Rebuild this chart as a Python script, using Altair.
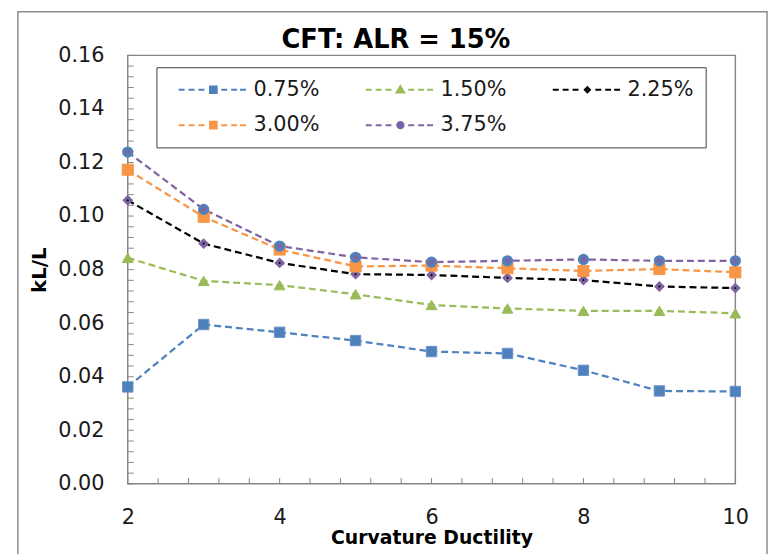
import altair as alt
import pandas as pd

# ---- data ----
x_vals = [2, 3, 4, 5, 6, 7, 8, 9, 10]
series_names = ["0.75%", "1.50%", "2.25%", "3.00%", "3.75%"]
s_075 = [0.0362, 0.0595, 0.0566, 0.0535, 0.0494, 0.0487, 0.0424, 0.0347, 0.0345]
s_150 = [0.0844, 0.0758, 0.0742, 0.0708, 0.0668, 0.0655, 0.0646, 0.0646, 0.0637]
s_225 = [0.1059, 0.0897, 0.0825, 0.0783, 0.0780, 0.0769, 0.0761, 0.0737, 0.0731]
s_300 = [0.1173, 0.0997, 0.0875, 0.0812, 0.0815, 0.0805, 0.0795, 0.0802, 0.0790]
s_375 = [0.1239, 0.1025, 0.0888, 0.0846, 0.0828, 0.0833, 0.0838, 0.0833, 0.0833]
x_tick_labels = [2, 4, 6, 8, 10]
y_tick_labels = [0.0, 0.02, 0.04, 0.06, 0.08, 0.10, 0.12, 0.14, 0.16]
title_text = "CFT: ALR = 15%"
x_title = "Curvature Ductility"
y_title = "kL/L"

all_series = [s_075, s_150, s_225, s_300, s_375]
rows = []
for name, vals in zip(series_names, all_series):
    for xv, yv in zip(x_vals, vals):
        rows.append({"x": xv, "y": yv, "series": name})
df = pd.DataFrame(rows)

# ---- styles ----
FONT = "DejaVu Sans"
W, H = 614, 433
line_colors = ["#4F81BD", "#9BBB59", "#000000", "#F79646", "#8064A2"]
legend_fills = ["#4F81BD", "#9BBB59", "#3a2a50", "#F79646", "#6a62b0"]
marker_style = {
    "0.75%": dict(shape="square", size=110, fill="#4F81BD", stroke="#6a93c8", strokeWidth=1),
    "1.50%": dict(shape="triangle-up", size=120, fill="#9BBB59", stroke="#9BBB59", strokeWidth=1),
    "2.25%": dict(shape="diamond", size=45, fill="#000000", stroke="#7F62A0", strokeWidth=3),
    "3.00%": dict(shape="square", size=125, fill="#F79646", stroke="#F79646", strokeWidth=1),
    "3.75%": dict(shape="circle", size=70, fill="#8064A2", stroke="#4F81BD", strokeWidth=3),
}

# legend symbol paths: dashed line + marker (unit = sqrt(size)/2 px)
def dash_path(marker):
    left = "M0,0H1.5M2.5,0H4M5,0H6.5"
    right = "M10.75,0H12.25M13.25,0H14.75M15.5,0H17"
    return left + marker + right

legend_markers = [
    "M7.9,-0.85H9.6V0.85H7.9Z",
    "M8.75,-0.9L9.7,0.7H7.8Z",
    "M8.75,-0.65L9.4,0L8.75,0.65L8.1,0Z",
    "M7.9,-0.85H9.6V0.85H7.9Z",
    "M7.95,0A0.8,0.8 0 1,0 9.55,0A0.8,0.8 0 1,0 7.95,0Z",
]
legend_shapes = [dash_path(m) for m in legend_markers]

xs = alt.Scale(domain=[2, 10], nice=False, zero=False)
ys = alt.Scale(domain=[0, 0.16], nice=False)

base = alt.Chart(df)

x_enc = alt.X("x:Q", scale=xs, axis=alt.Axis(
    values=x_tick_labels, format="d", title=x_title, grid=False, domain=False, ticks=False,
    labelFlush=False,
    labelFont=FONT, labelFontSize=21, labelColor="#1a1a1a", labelPadding=23,
    titleFont=FONT, titleFontSize=19, titleFontWeight="bold", titleColor="#000000",
    titlePadding=1))
y_enc = alt.Y("y:Q", scale=ys, axis=alt.Axis(
    values=y_tick_labels, format=".2f", title=y_title, grid=False, domain=False, ticks=False,
    labelFlush=False,
    labelFont=FONT, labelFontSize=21, labelColor="#1a1a1a", labelPadding=24,
    titleFont=FONT, titleFontSize=20, titleFontWeight="bold", titleColor="#000000",
    titlePadding=8))

line_layers = []
point_layers = []
for i, name in enumerate(series_names):
    sub = base.transform_filter(alt.datum.series == name)
    enc = dict(x=x_enc, y=y_enc) if i == 0 else dict(x="x:Q", y="y:Q")
    line_layers.append(
        sub.mark_line(strokeDash=[7, 4], strokeWidth=2.25, color=line_colors[i]).encode(**enc)
    )
    point_layers.append(
        sub.mark_point(filled=True, opacity=1, **marker_style[name]).encode(x="x:Q", y="y:Q")
    )

legend_layer = base.transform_filter("false").mark_point(
    filled=True, opacity=1, size=64, strokeWidth=2
).encode(
    x="x:Q", y="y:Q",
    stroke=alt.Stroke("series:N", scale=alt.Scale(domain=series_names, range=line_colors),
                      legend=alt.Legend(title=None)),
    fill=alt.Fill("series:N", scale=alt.Scale(domain=series_names, range=legend_fills),
                  legend=alt.Legend(title=None)),
    shape=alt.Shape("series:N", scale=alt.Scale(domain=series_names, range=legend_shapes),
                    legend=alt.Legend(title=None)),
)

# inside-pointing minor ticks
x_minor = [2 + 0.4 * i for i in range(21)]
y_minor = [round(0.004 * i, 3) for i in range(41)]
xt = alt.Chart(pd.DataFrame({"t": x_minor})).mark_rule(color="#868686", strokeWidth=1).encode(
    x=alt.X("t:Q", scale=xs), y=alt.value(H), y2=alt.value(H - 6))
yt = alt.Chart(pd.DataFrame({"t": y_minor})).mark_rule(color="#868686", strokeWidth=1).encode(
    y=alt.Y("t:Q", scale=ys), x=alt.value(0), x2=alt.value(6))

one = pd.DataFrame({"k": [0]})
frame = alt.Chart(one).mark_rect(fill=None, stroke="#8c8c8c", strokeWidth=1.5).encode(
    x=alt.value(-111), x2=alt.value(646), y=alt.value(-44), y2=alt.value(540))
title = alt.Chart(one).mark_text(
    text=title_text, font=FONT, fontSize=26, fontWeight="bold", color="#000000",
    align="center", baseline="alphabetic").encode(x=alt.value(271), y=alt.value(-7))

chart = alt.layer(
    frame, xt, yt, *line_layers, *point_layers, legend_layer, title
).properties(
    width=W, height=H,
    autosize=alt.AutoSizeParams(type="none"),
    padding={"left": 121, "top": 45, "right": 33, "bottom": 68},
).configure_view(
    stroke="#868686", strokeWidth=1.5
).configure_legend(
    orient="none", legendX=29, legendY=12, columns=3, direction="horizontal",
    padding=12, strokeColor="#404040", fillColor="#ffffff",
    labelFont=FONT, labelFontSize=21, labelColor="#1a1a1a",
    symbolSize=64, symbolStrokeWidth=2, labelOffset=65,
    columnPadding=36, rowPadding=14, labelLimit=300,
)

chart.save("out.html", embed_options={"renderer": "svg", "actions": False})
